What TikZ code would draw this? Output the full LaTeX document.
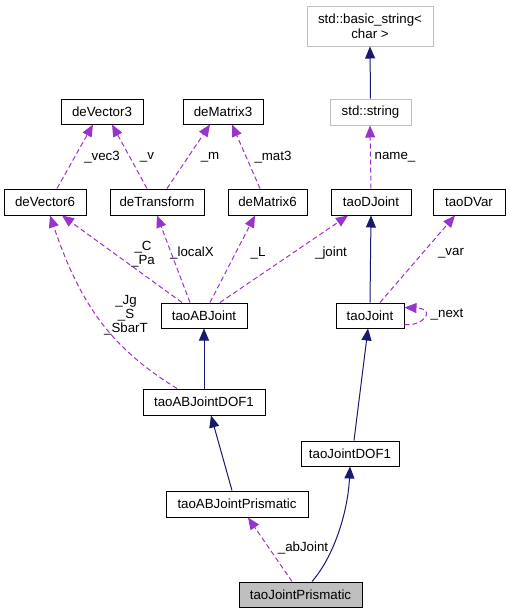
\documentclass[tikz,border=0pt]{standalone}
\usepackage{fontspec}
\setmainfont{Liberation Sans}
\usetikzlibrary{arrows.meta,calc}
\definecolor{navy}{HTML}{191970}
\definecolor{orchid}{HTML}{9A32CD}
\definecolor{greyline}{HTML}{BFBFBF}
\begin{document}
\begin{tikzpicture}[x=1pt,y=-1pt,
  font=\fontsize{13.3}{15.5}\selectfont,
  box/.style={draw=black,line width=1pt,fill=white,inner sep=0pt,minimum height=26pt,align=center},
  gbox/.style={box,draw=greyline},
  inh/.style={draw=navy,line width=1pt,-{Triangle[length=12pt,width=10pt]}},
  use/.style={draw=orchid,line width=1pt,dash pattern=on 5pt off 3pt,-{Triangle[length=12pt,width=10pt]}},
  lbl/.style={inner sep=0pt,align=center,font=\fontsize{13.3}{14}\selectfont}]
\useasboundingbox (0,0) rectangle (509,613);
% nodes
\node[gbox,minimum width=126pt,minimum height=40pt] (bs) at (370,26) {std::basic\_string<\\char >};
\node[gbox,minimum width=81pt] (ss) at (370.5,112) {std::string};
\node[box,minimum width=82pt,minimum height=25pt] (dv3) at (102,111.5) {deVector3};
\node[box,minimum width=80pt,minimum height=25pt] (dm3) at (223,111.5) {deMatrix3};
\node[box,minimum width=82pt] (dv6) at (45,202) {deVector6};
\node[box,minimum width=94pt] (dtr) at (157,202) {deTransform};
\node[box,minimum width=79pt] (dm6) at (267.5,202) {deMatrix6};
\node[box,minimum width=80pt] (tdj) at (371,202) {taoDJoint};
\node[box,minimum width=72pt] (tdv) at (469,202) {taoDVar};
\node[box,minimum width=86pt,minimum height=25pt] (tabj) at (204,315.5) {taoABJoint};
\node[box,minimum width=68pt,minimum height=25pt] (tj) at (370,315.5) {taoJoint};
\node[box,minimum width=122pt] (tabd) at (204,402) {taoABJointDOF1};
\node[box,minimum width=98pt,minimum height=25pt] (tjd) at (350,453.5) {taoJointDOF1};
\node[box,minimum width=142pt] (tabp) at (237,504) {taoABJointPrismatic};
\node[box,fill=greyline,minimum width=123pt,minimum height=25pt] (tjp) at (300.5,594.5) {taoJointPrismatic};
% inheritance edges
\draw[inh] (ss.north) -- (bs.south);
\draw[inh] (tj.north) -- (tdj.south);
\draw[inh] (tabd.north) -- (tabj.south);
\draw[inh] ($(tjd.north)+(4,0)$) -- ($(tj.south)+(-2,0)$);
\draw[inh] ($(tabp.north)+(-5,0)$) -- ($(tabd.south)+(7,0)$);
\draw[inh] ($(tjp.north)+(11.5,0)$) .. controls (335,555) and (348,510) .. (tjd.south);
% usage edges
\draw[use] (tdj.north) -- ($(ss.south)+(-0.5,0)$);
\draw[use] ($(dv6.north)+(12,0)$) -- ($(dv3.south)+(-9,0)$);
\draw[use] ($(dtr.north)+(-10,0)$) -- ($(dv3.south)+(10,0)$);
\draw[use] ($(dtr.north)+(10,0)$) -- ($(dm3.south)+(-13,0)$);
\draw[use] ($(dm6.north)+(-7.5,0)$) -- ($(dm3.south)+(9,0)$);
\draw[use] ($(tabj.north)+(-22,0)$) -- ($(dv6.south)+(17,0)$);
\draw[use] ($(tabj.north)+(-14,0)$) -- (dtr.south);
\draw[use] ($(tabj.north)+(6,0)$) -- ($(dm6.south)+(-12.5,0)$);
\draw[use] ($(tabj.north)+(16,0)$) -- ($(tdj.south)+(-23,0)$);
\draw[use] ($(tj.north)+(10,0)$) -- ($(tdv.south)+(-14,0)$);
\draw[use] ($(tj.east)+(0,9)$) .. controls (422,327) and (438,309) .. ($(tj.east)+(0,-8)$);
\draw[use] ($(tabd.north)+(-27,0)$) .. controls (115,350) and (82,310) .. ($(dv6.south)+(5,0)$);
\draw[use] ($(tjp.north)+(-8.5,0)$) -- ($(tabp.south)+(11,0)$);
% labels
\node[lbl] (lname) at (395,157) {name\_};
\node[lbl] (lvec3) at (102,157) {\_vec3};
\node[lbl] (lv) at (147,157) {\_v};
\node[lbl] (lm) at (210,157) {\_m};
\node[lbl] (lmat3) at (273,157) {\_mat3};
\node[lbl] (lcpa) at (143,254) {\_C\\\_Pa};
\node[lbl] (llocal) at (192,253) {\_localX};
\node[lbl] (lL) at (258,253) {\_L};
\node[lbl] (ljoint) at (331,253) {\_joint};
\node[lbl] (lvar) at (451,253) {\_var};
\node[lbl] (lnext) at (447,315) {\_next};
\node[lbl] (ljg) at (126,315) {\_Jg\\\_S\\\_SbarT};
\node[lbl] (labj) at (303,548) {\_abJoint};
\end{tikzpicture}
\end{document}
